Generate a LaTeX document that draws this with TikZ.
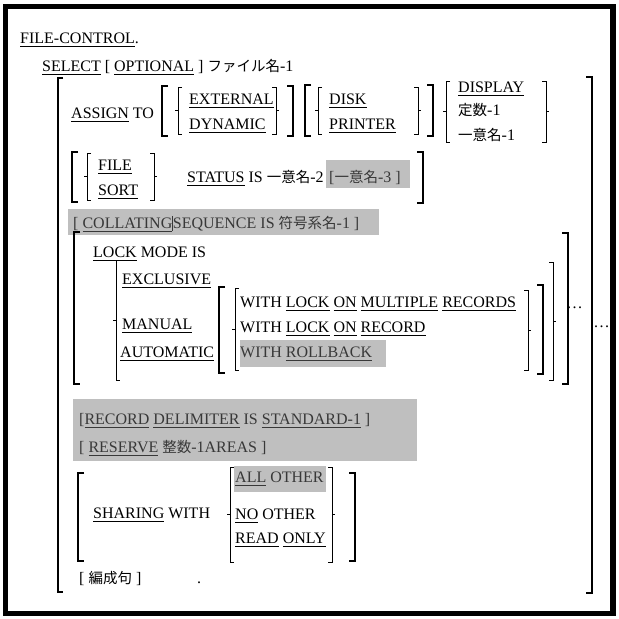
\documentclass[tikz,border=0pt]{standalone}
\usepackage{fontspec}
\setmainfont{Liberation Serif}
\newfontfamily\jpfont{Noto Sans CJK JP}
\newcommand\jp[1]{{\jpfont\fontsize{14.5}{16}\selectfont #1}}
\newcommand\kw[1]{\setbox0\hbox{#1}\rlap{\rule[-4pt]{\wd0}{0.9pt}}\box0\relax}
\tikzset{
  txt/.style={anchor=base west,inner sep=0pt,font=\fontsize{16}{19}\selectfont},
  gtxt/.style={txt,text=black!78},
  graybox/.style={fill=black!25},
  thickbrk/.style={line width=2.4pt},
  thinbrk/.style={line width=0.9pt},
  outerbrk/.style={line width=1.4pt}
}
\begin{document}
\begin{tikzpicture}[x=1pt,y=-1pt]
        \useasboundingbox (0,0) rectangle (619,619);
        %% frame
        \draw[line width=5.5pt] (5.5,6.5) rectangle (613,613.5);
        %% shaded options
        \fill[graybox] (326,160) rectangle (410,188);
        \fill[graybox] (68,209) rectangle (379,235);
        \fill[graybox] (240,340) rectangle (386,367);
        \fill[graybox] (73,399) rectangle (417,461);
        \fill[graybox] (234,466) rectangle (326,492);
        %% heading
        \node[txt] (fc) at (20,43) {\kw{FILE-CONTROL}.};
        \node[txt] (sel) at (42,71) {\kw{SELECT} [ \kw{OPTIONAL} ] \jp{ファイル名}-1};
        %% assign
        \node[txt] (asg) at (71,118) {\kw{ASSIGN} TO};
        \node[txt] (ext) at (189,104) {\kw{EXTERNAL}};
        \node[txt] (dyn) at (189,129) {\kw{DYNAMIC}};
        \node[txt] (disk) at (329,104) {\kw{DISK}};
        \node[txt] (prn) at (329,129) {\kw{PRINTER}};
        \node[txt] (disp) at (458,92) {\kw{DISPLAY}};
        \node[txt] (const) at (458,115) {\jp{定数}-1};
        \node[txt] (idone) at (458,140) {\jp{一意名}-1};
        %% status
        \node[txt] (file) at (98,170) {\kw{FILE}};
        \node[txt] (sort) at (98,195) {\kw{SORT}};
        \node[txt] (stat) at (187,182) {\kw{STATUS} IS \jp{一意名}-2};
        \node[gtxt] (idthree) at (329,182) {[\jp{一意名}-3 ]};
        %% collating
        \node[gtxt] (coll) at (73,228) {[ \kw{COLLATING}\rule[-3pt]{0.6pt}{15pt}SEQUENCE IS \jp{符号系名}-1 ]};
        %% lock mode
        \node[txt] (lock) at (93,257) {\kw{LOCK} MODE IS};
        \node[txt] (excl) at (122,284) {\kw{EXCLUSIVE}};
        \node[txt] (man) at (122,329) {\kw{MANUAL}};
        \node[txt] (auto) at (120,357) {\kw{AUTOMATIC}};
        \node[txt] (wmr) at (240,307) {WITH \kw{LOCK} \kw{ON} \kw{MULTIPLE} \kw{RECORDS}};
        \node[txt] (wr) at (240,332) {WITH \kw{LOCK} \kw{ON} \kw{RECORD}};
        \node[gtxt] (wrb) at (240,357) {WITH \kw{ROLLBACK}};
        \node[txt] (dotsa) at (567,308) {.\kern1.5pt.\kern1.5pt.};
        \node[txt] (dotsb) at (594,327) {.\kern1.5pt.\kern1.5pt.};
        %% record / reserve
        \node[gtxt] (rec) at (79,424) {[\kw{RECORD} \kw{DELIMITER} IS \kw{STANDARD-1} ]};
        \node[gtxt] (res) at (79,452) {[ \kw{RESERVE} \jp{整数}-1AREAS ]};
        %% sharing
        \node[txt] (shr) at (93,518) {\kw{SHARING} WITH};
        \node[gtxt] (allo) at (235,482) {\kw{ALL} OTHER};
        \node[txt] (noo) at (235,519) {\kw{NO} OTHER};
        \node[txt] (rdo) at (235,543) {\kw{READ} \kw{ONLY}};
        \node[txt] (org) at (79,583) {[ \jp{編成句} ]};
        \node[txt] (stop) at (197,583) {.};
        %% brackets
        \draw[outerbrk] (63,78) -| (58,592) -- ++(5,0);
        \draw[outerbrk] (586,77) -| (592,593) -- ++(-6,0);
        \foreach \x/\ya/\yb in {162/86/136,305/85/136,72/152/202,74/232/384,219/287/373,78/473/561}
          \draw[thickbrk] (\x+6,\ya) -| (\x,\yb) -- ++(6,0);
        \foreach \x/\ya/\yb in {293/86/136,433/85/136,423/152/203,543/285/374,568/233/384,355/473/561}
          \draw[thickbrk] (\x-6,\ya) -| (\x,\yb) -- ++(-6,0);
        %% braces
        \foreach \x/\ya/\yb in {178/87/134,318/87/134,446/81/142,87/153/200,116/260/380,235/288/370,230/467/562}
          \draw[thinbrk] (\x+4,\ya) -| (\x,\yb) -- ++(4,0) (\x,{(\ya+\yb)/2}) -- ++(-3,0);
        \foreach \x/\ya/\yb in {276/87/134,418/87/134,546/81/142,154/153/200,528/290/370,553/262/380,332/467/562}
          \draw[thinbrk] (\x-4,\ya) -| (\x,\yb) -- ++(-4,0) (\x,{(\ya+\yb)/2}) -- ++(3,0);
    \end{tikzpicture}
\end{document}
